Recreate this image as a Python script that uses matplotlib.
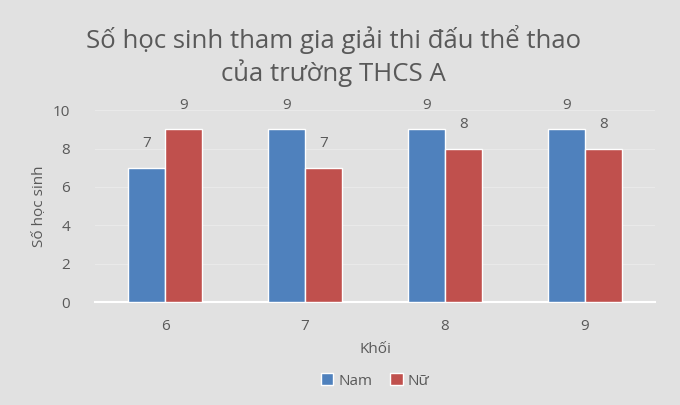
import numpy as np
from matplotlib import pyplot as plt

khoi = ["6", "7", "8", "9"]
nam = [7, 9, 9, 9]
nu = [9, 7, 8, 8]
yticks = [0, 2, 4, 6, 8, 10]

bg = "#e1e1e1"
text_color = "#595959"
blue = "#4f81bd"
red = "#c0504d"

plt.rcParams["font.family"] = ["Open Sans", "DejaVu Sans"]

fig = plt.figure(figsize=(6.8, 4.05), dpi=100)
fig.patch.set_facecolor(bg)
ax = fig.add_axes((0.14, 0.254, 0.823, 0.474))
ax.set_facecolor(bg)

x = np.arange(len(khoi))
w = 0.265
b1 = ax.bar(x - w / 2, nam, w, color=blue, edgecolor="white", linewidth=1, label="Nam", zorder=3)
b2 = ax.bar(x + w / 2, nu, w, color=red, edgecolor="white", linewidth=1, label="Nữ", zorder=3)

for bars in (b1, b2):
    ax.bar_label(bars, padding=12, fontsize=11, color=text_color)

ax.set_xlim(-0.5, len(khoi) - 0.5)
ax.set_ylim(0, 10)
ax.set_yticks(yticks)
ax.set_xticks(x)
ax.set_xticklabels(khoi)
ax.tick_params(axis="both", length=0, labelsize=11, labelcolor=text_color)
ax.tick_params(axis="x", pad=12)
ax.tick_params(axis="y", pad=18)
ax.yaxis.grid(True, color="#e9e9e9", linewidth=0.8, zorder=0)

for side in ["top", "right", "left"]:
    ax.spines[side].set_visible(False)
ax.spines["bottom"].set_color("white")
ax.spines["bottom"].set_linewidth(1.5)

ax.set_xlabel("Khối", fontsize=11, color=text_color, labelpad=6)
ax.set_ylabel("Số học sinh", fontsize=11, color=text_color, labelpad=4)

fig.text(0.49, 0.862, "Số học sinh tham gia giải thi đấu thể thao\ncủa trường THCS A",
         ha="center", va="center", fontsize=18.5, color=text_color, linespacing=1.25)

ax.legend(loc="upper center", bbox_to_anchor=(0.5, -0.3), ncol=2, frameon=False,
          fontsize=11, labelcolor=text_color, handlelength=0.8, handleheight=0.8,
          handletextpad=0.3, columnspacing=1.2)

fig.savefig("out.png", dpi=100, facecolor=bg)
